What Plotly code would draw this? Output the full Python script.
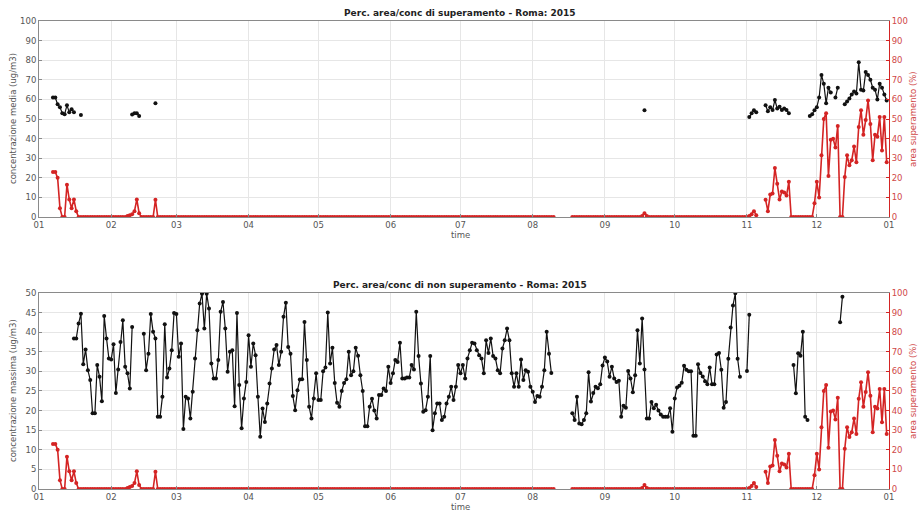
import pandas as pd
import plotly.graph_objects as go

N = None
dates = pd.date_range("2015-01-01", periods=365, freq="D")

# concentrazione massima (non superamento), ug/m3, daily
conc_max = ([N]*15
    + [38.4,38.4,42.2,44.7,31.8,35.6,30.3,27.8,19.3,19.3,31.6,28.6,22.4,44.1,38.4,33.3]
    + [33.0,36.9,24.5,30.5,37.5,43.0,31.2,29.5,25.6,41.3] + [N]*4
    + [39.6,30.3,34.5,44.6,40.1,38.4,18.4,18.4,23.5,42.0,28.4,30.7,35.4,44.9]
    + [44.6,33.7,37.1,15.3,23.5,23.1,18.0,24.8,33.3,40.5,47.3,49.8,40.9,49.8,46.0,32.0,
       28.2,28.2,32.9,45.2,47.7,40.9,29.9,35.0,35.4,21.1,44.9,26.5,15.5,23.1,27.3]
    + [39.2,31.2,37.1,34.1,23.5,13.3,20.5,17.1,21.8,26.9,30.7,35.6,36.7,31.6,35.0,43.9,
       47.5,36.2,34.5,23.7,20.1,25.2]
    + [27.9,28.0,42.6]
    + [32.9,21,18,23.1,29.5,22.7,22.7,30,31,45,32,36,27,22,21,25,27,28,35,29,30,36,34,29,
       25,16,16,21,23,20,18,24,24,25.6,25,31.2,27,29.5,32.9,32.4,37.3,28.2,28.2,28.4,28.4,
       31.6,30.5,45.2,33.9,26.9,19.7,20.1,23.5,33.9,15,19.3,21.8,21.8,17.6,18.4,21.8,23.5,
       26.1,22.7,26.1,31.6,29.5,31.6,28.2,33.3,35.4,37.3,37.1,35.4,34.1,33.3,29.5,37.9,
       34.7,38.4,33.9,33.3,30.3,29.5,35.8,37.9,40.9,37.9,29.5,26.1,29.5,26.1,33,27.8,30.3,
       29.9,26.1,24.8,22.2,23.7,23.5,26.1,30.3,40.1,34.5,29.6]
    + [N]*8
    + [19.3,17.6,23.5,16.7,16.5,17.6,19.3,29.8,22.3,24.5,26.1,25.7,26.7,31.5,33.5,32.5,
       28.6,31.2,28.2,27.3,27.6,18.4]
    + [21.2,20.7,30.1,28.2,24.7,29.0,40.5,32.0,43.5,30.5,18.0,18.0]
    + [22.2,20.6,21.5,20.0,19.0,18.4,18.4,18.4,20.6,14.6]
    + [23.1,25.9,26.3,27.1,31.4,30.4,30.0,30.0,13.6,13.6,31.8,29.6,28.7,27.5,26.7,31.0,
       26.7,26.7,34.3,34.7,30.4,20.7,22.2,33.2,41.2,46.8,49.9,33.2,28.6]
    + [N]*2 + [30.1,44.4] + [N]*18
    + [31.6,24.4,34.6,34.0,40.1,18.4,17.6] + [N]*13 + [42.5,49.0] + [N]*19)

# concentrazione media (superamento), ug/m3, daily
conc_media = ([N]*6 + [61,61,57.5,56,53,52.5,57,53.5,55,53.5] + [N]*2 + [52] + [N]*21
    + [52.3,53,53,51.5] + [N]*6 + [58] + [N]*209 + [54.5] + [N]*44
    + [51,53,54.5,53.5] + [N]*3
    + [57,54,56,54.6,59.7,55.4,56.3,54.6,55.4,54.6,53] + [N]*8
    + [51.5,52.5,54.5,56,61,72.5,68,58,66,63.5,N,61,66,N,N,57.5,59,60.5,62.5,64,63,79,65,
       64.5,74,72.5,70,66,65,60,68,66,62.5,59.5])

# area superamento (%), daily
area_sup = ([N]*6 + [23,23,20,4.5,0,0,16.5,9,4.5,9,3] + [0]*21
    + [0.5,1,1.5,3,9,2] + [0]*6 + [8.8] + [0]*171 + [N]*7 + [0]*30
    + [0.5,2,0.5] + [0]*42 + [0,0.5,1.5,3,1] + [N]*3
    + [8.8,3,11.5,12,25,17,9,13,12.5,11,18] + [0]*10
    + [7,18,10,31.5,50,53,21,39.5,40,35.5,46.5,0,0,20.5,31.5,26.5,29,36,28,46,54.5,42,
       49.5,59.5,47.5,29,42,41,51,34,51,28])

titles = ["Perc. area/conc di superamento - Roma: 2015",
          "Perc. area/conc di non superamento - Roma: 2015"]
left_titles = ["concentrazione media (ug/m3)", "concentrazione massima (ug/m3)"]
right_title = "area superamento (%)"

BLACK = "#111111"
RED = "#d42424"
GRID = "#e6e6e6"
AX = "#8a8a8a"
TXT = "#555555"
RTXT = "#d04848"
FONT = "DejaVu Sans"

fig = go.Figure()
mk = dict(size=4, symbol="circle")
fig.add_trace(go.Scatter(x=dates, y=conc_media, mode="lines+markers", xaxis="x", yaxis="y",
                         line=dict(color=BLACK, width=1.2), marker=dict(color=BLACK, **mk)))
fig.add_trace(go.Scatter(x=dates, y=area_sup, mode="lines+markers", xaxis="x", yaxis="y2",
                         line=dict(color=RED, width=1.6), marker=dict(color=RED, **mk)))
fig.add_trace(go.Scatter(x=dates, y=conc_max, mode="lines+markers", xaxis="x2", yaxis="y3",
                         line=dict(color=BLACK, width=1.2), marker=dict(color=BLACK, **mk)))
fig.add_trace(go.Scatter(x=dates, y=area_sup, mode="lines+markers", xaxis="x2", yaxis="y4",
                         line=dict(color=RED, width=1.6), marker=dict(color=RED, **mk)))

xcommon = dict(range=["2015-01-01", "2016-01-01"], dtick="M1", tickformat="%m",
               tick0="2015-01-01", showgrid=True, gridcolor=GRID, showline=True,
               linecolor=AX, mirror=True, ticks="inside", ticklen=3, tickcolor=AX,
               tickfont=dict(size=8.5, color=TXT, family=FONT), zeroline=False)
lcommon = dict(showgrid=True, gridcolor=GRID, showline=True, linecolor=AX, ticks="inside",
               ticklen=3, tickcolor=AX, tickfont=dict(size=8.5, color=TXT, family=FONT),
               zeroline=False)
rcommon = dict(side="right", range=[0, 100], dtick=10, showgrid=False, showline=True,
               linecolor=RED, ticks="inside", ticklen=3, tickcolor=RED,
               tickfont=dict(size=8.5, color=RTXT, family=FONT), zeroline=False)

fig.update_layout(
    width=921, height=515, showlegend=False,
    paper_bgcolor="white", plot_bgcolor="white",
    margin=dict(l=39, r=32, t=21, b=26),
    font=dict(family=FONT, color=TXT),
    xaxis=dict(domain=[0, 1], anchor="y", **xcommon),
    yaxis=dict(domain=[0.581, 1.0], range=[0, 100], dtick=10, **lcommon),
    yaxis2=dict(overlaying="y", anchor="x", **rcommon),
    xaxis2=dict(domain=[0, 1], anchor="y3", **xcommon),
    yaxis3=dict(domain=[0.0, 0.419], range=[0, 50], dtick=5, **lcommon),
    yaxis4=dict(overlaying="y3", anchor="x2", **rcommon),
)

ann = []
for i, (py, ylo, yhi) in enumerate([(13, 21, 217), (285, 293, 489)]):
    ann.append(dict(text="<b>" + titles[i] + "</b>", x=460, y=py,
                    font=dict(size=9, color="#222222", family=FONT)))
    ann.append(dict(text=left_titles[i], x=13, y=(ylo + yhi) / 2, textangle=-90,
                    font=dict(size=8.5, color=TXT, family=FONT)))
    ann.append(dict(text=right_title, x=913, y=(ylo + yhi) / 2, textangle=-90,
                    font=dict(size=8.5, color=RTXT, family=FONT)))
    ann.append(dict(text="time", x=460, y=yhi + 18,
                    font=dict(size=8.5, color=TXT, family=FONT)))
# convert pixel positions to paper coords
W, H, L, R, T, B = 921, 515, 39, 32, 21, 26
pw, ph = W - L - R, H - T - B
for a in ann:
    a["showarrow"] = False
    a["xref"] = "paper"; a["yref"] = "paper"
    a["x"] = (a["x"] - L) / pw
    a["y"] = (H - B - a["y"]) / ph
    a["xanchor"] = "center"; a["yanchor"] = "middle"
fig.update_layout(annotations=ann)

fig.write_html("out.html", config={"displayModeBar": False},
               post_script="document.body.style.margin='0';document.body.style.padding='0';")
